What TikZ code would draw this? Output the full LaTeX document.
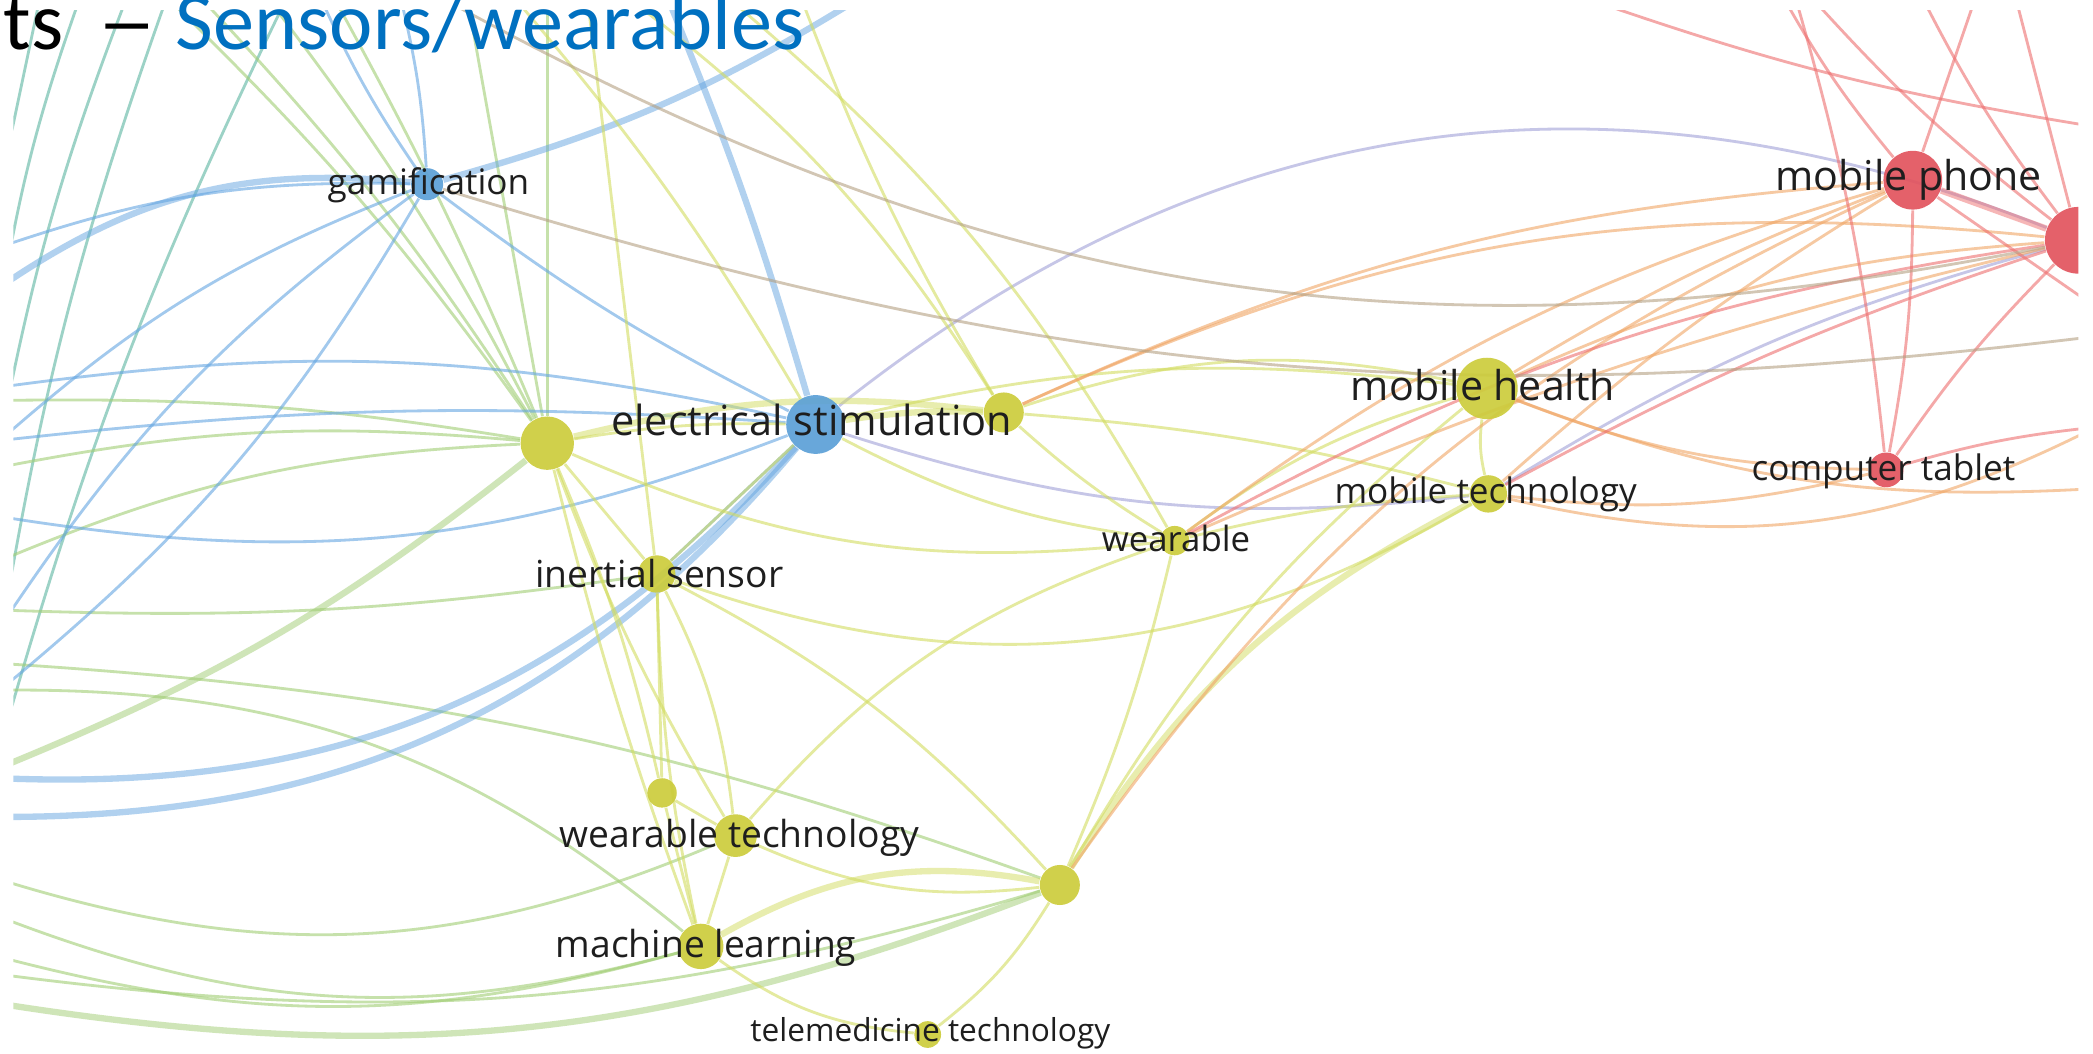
\documentclass[tikz,border=0pt]{standalone}
\usepackage{fontspec}
\usepackage{graphicx}
\setmainfont{Open Sans}
\newfontfamily\titlefont{Carlito}
\usetikzlibrary{backgrounds}

\definecolor{kwyellow}{RGB}{204,204,60}
\definecolor{kwblue}{RGB}{92,160,215}
\definecolor{kwred}{RGB}{226,84,94}
\definecolor{yedge}{RGB}{210,220,95}
\definecolor{bedge}{RGB}{100,165,225}
\definecolor{tedge}{RGB}{90,180,160}
\definecolor{gedge}{RGB}{160,205,115}
\definecolor{redge}{RGB}{238,110,110}
\definecolor{oedge}{RGB}{240,165,100}
\definecolor{pedge}{RGB}{160,160,215}
\definecolor{bredge}{RGB}{180,160,130}
\definecolor{titleblue}{RGB}{0,112,192}
\definecolor{labtext}{RGB}{30,30,30}

\tikzset{
  kw/.style={circle, inner sep=0pt, minimum size=#1*0.013348cm, fill opacity=0.92},
  lab/.style={font=\fontsize{#1}{#1}\selectfont, inner sep=0pt, anchor=base, text=labtext},
  thin/.style={line width=0.8pt, draw opacity=0.6},
  thick/.style={line width=1.8pt, draw opacity=0.5}
}

\begin{document}
\begin{tikzpicture}[x=0.013348cm, y=-0.013348cm]
    \useasboundingbox (0,0) rectangle (1568,789);

    % keyword circles
    \begin{scope}
    \clip (10,8) rectangle (1557,789);
    \node[kw=24, fill=kwblue] (gam) at (320,138) {};
    \node[kw=44, fill=kwblue] (elec) at (611,318) {};
    \node[kw=40, fill=kwyellow] (hubA) at (410,332) {};
    \node[kw=30, fill=kwyellow] (hubB) at (752,309) {};
    \node[kw=28, fill=kwyellow] (inert) at (492,430) {};
    \node[kw=22, fill=kwyellow] (wear) at (880,405) {};
    \node[kw=46, fill=kwyellow] (mhealth) at (1114,291) {};
    \node[kw=28, fill=kwyellow] (mtech) at (1115,370) {};
    \node[kw=44, fill=kwred] (mphone) at (1433,135) {};
    \node[kw=50, fill=kwred] (redR) at (1557,180) {};
    \node[kw=26, fill=kwred] (tablet) at (1413,352) {};
    \node[kw=22, fill=kwyellow] (smallY) at (496,594) {};
    \node[kw=32, fill=kwyellow] (wtech) at (551,626) {};
    \node[kw=34, fill=kwyellow] (ml) at (525,709) {};
    \node[kw=30, fill=kwyellow] (hubC) at (794,663) {};
    \node[kw=20, fill=kwyellow] (tele) at (695,775) {};
    \end{scope}

    % points where links leave the view
    \foreach \n/\x/\y in {t30/30/-2, t60/60/-2, t95/95/-2, t125/125/-2, t150/150/-2,
        t200/200/-2, t215/215/-2, t240/240/-2, t250/250/-2, t300/300/-2, t330/330/-2,
        t350/350/-2, t385/385/-2, t410/410/-2, t440/440/-2, t470/470/-2, t500/500/-2,
        t545/545/-2, t600/600/-2, t645/645/-2, t1186/1186/-2, t1336/1336/-2,
        t1345/1345/-2, t1357/1357/-2, t1440/1440/-2, t1480/1480/-2, t1510/1510/-2,
        l140/0/140, l185/0/185, l215/0/215, l230/0/230, l290/0/290, l300/0/300,
        l330/0/330, l350/0/350, l387/0/387, l420/0/420, l457/0/457, l470/0/470,
        l480/0/480, l497/0/497, l517/0/517, l560/0/560, l575/0/575, l583/0/583,
        l612/0/612, l659/0/659, l687/0/687, l717/0/717, l730/0/730, l752/0/752,
        r95/1570/95, r230/1570/230, r252/1570/252, r300/1570/300, r320/1570/320,
        r366/1570/366}
        \coordinate (\n) at (\x,\y);

    % links
    \begin{scope}[on background layer]
    \fill[white] (0,0) rectangle (1568,789);
    \clip (10,8) rectangle (1557,789);
    % teal and green
    \foreach \p/\q/\k in {t30/l140/0, t60/l230/-5, t95/l330/-5, t125/l480/-5, t215/l560/-5}
        \draw[thin, draw=tedge] (\p) to[bend left=\k] (\q);
    \foreach \p/\q/\k in {t125/hubA/5, t150/hubA/5, t200/hubA/5, t250/hubA/3, t350/hubA/0,
        t410/hubA/0, l300/hubA/5, l350/hubA/8, l420/hubA/10, l457/inert/-5, l497/hubC/8,
        l517/ml/20, l659/wtech/-20, l687/ml/-18, l717/ml/-15, l730/hubC/-12}
        \draw[thin, draw=gedge] (\p) to[bend left=\k] (\q);
    \foreach \p/\q/\k in {l575/hubA/-8, l752/hubC/-15}
        \draw[thick, draw=gedge] (\p) to[bend left=\k] (\q);
    % blue
    \foreach \p/\q/\k in {l185/gam/10, gam/t300/-5, gam/t240/5, gam/elec/-5, gam/l330/-10,
        gam/l470/-10, l517/gam/-10, elec/l290/-10, elec/l330/-5, elec/l387/15, elec/inert/0}
        \draw[thin, draw=bedge] (\p) to[bend left=\k] (\q);
    \foreach \p/\q/\k in {l215/gam/20, gam/t645/-8, elec/t500/-3, elec/l583/25, elec/l612/25}
        \draw[thick, draw=bedge] (\p) to[bend left=\k] (\q);
    \foreach \p/\q/\k in {elec/redR/30, elec/mtech/-12, mtech/redR/8}
        \draw[thin, draw=pedge] (\p) to[bend left=\k] (\q);
    % yellow
    \foreach \p/\q/\k in {t385/elec/5, t440/inert/0, t470/hubB/10, t545/wear/10, t600/hubB/-5,
        hubA/elec/5, hubA/inert/0, hubA/smallY/5, hubA/ml/-3, hubA/wtech/-5, hubA/wear/-15,
        inert/elec/0, inert/wtech/10, inert/ml/-5, inert/smallY/0, inert/hubC/10,
        inert/mtech/-25, elec/wear/-10, elec/mhealth/10, hubB/wear/-5, hubB/mtech/5,
        hubB/mhealth/15, wear/mhealth/10, wear/mtech/5, wear/hubC/5, mhealth/mtech/-10,
        hubC/mhealth/10, wtech/hubC/-15, ml/wtech/0, ml/smallY/0, ml/tele/-15,
        wtech/smallY/0, wtech/wear/15, hubC/tele/10}
        \draw[thin, draw=yedge] (\p) to[bend left=\k] (\q);
    \foreach \p/\q/\k in {hubA/hubB/10, elec/hubB/5, ml/hubC/20, hubC/mtech/15}
        \draw[thick, draw=yedge] (\p) to[bend left=\k] (\q);
    % orange and red
    \foreach \p/\q/\k in {mhealth/tablet/-10, mhealth/mphone/5, mhealth/redR/10,
        mtech/tablet/-10, mtech/r320/-20, mhealth/r366/-12, hubC/mphone/15,
        wear/mphone/10, wear/redR/5, hubB/redR/15, mtech/mphone/5, hubB/mphone/10}
        \draw[thin, draw=oedge] (\p) to[bend left=\k] (\q);
    \foreach \p/\q/\k in {mphone/tablet/5, redR/tablet/-5, mphone/t1336/5, t1357/redR/-5,
        t1186/r95/-5, t1345/tablet/5, mphone/t1480/0, redR/t1440/5, redR/t1510/0,
        redR/mtech/-5, redR/wear/-10, tablet/r320/5, redR/r300/5, mphone/r230/0}
        \draw[thin, draw=redge] (\p) to[bend left=\k] (\q);
    \draw[thick, draw=redge] (mphone) -- (redR);
    \foreach \p/\q/\k in {t330/redR/-20, gam/r252/-12}
        \draw[thin, draw=bredge] (\p) to[bend left=\k] (\q);
    \end{scope}

    % labels
    \node[lab=10] (gam-t) at (321,146) {gamification};
    \node[lab=11.8] (elec-t) at (608,326) {electrical stimulation};
    \node[lab=10.6] (inert-t) at (494,440) {inertial sensor};
    \node[lab=9.9] (wear-t) at (881,413) {wearable};
    \node[lab=11.7] (mhealth-t) at (1111,300) {mobile health};
    \node[lab=10] (mtech-t) at (1113,377) {mobile technology};
    \node[lab=11.7] (mphone-t) at (1430,143) {mobile phone};
    \node[lab=10] (tablet-t) at (1411,360) {computer tablet};
    \node[lab=10.6] (wtech-t) at (554,635) {wearable technology};
    \node[lab=10.6] (ml-t) at (529,717) {machine learning};
    \node[lab=9] (tele-t) at (697,780) {telemedicine technology};

    % slide title
    \node[font=\titlefont\fontsize{23.4}{28}\selectfont, inner sep=0pt, anchor=base east]
        (title) at (603,37) {ts\hspace{4.5pt} \scalebox{1.45}[1]{–} \textcolor{titleblue}{Sensors/wearables}};
\end{tikzpicture}
\end{document}
